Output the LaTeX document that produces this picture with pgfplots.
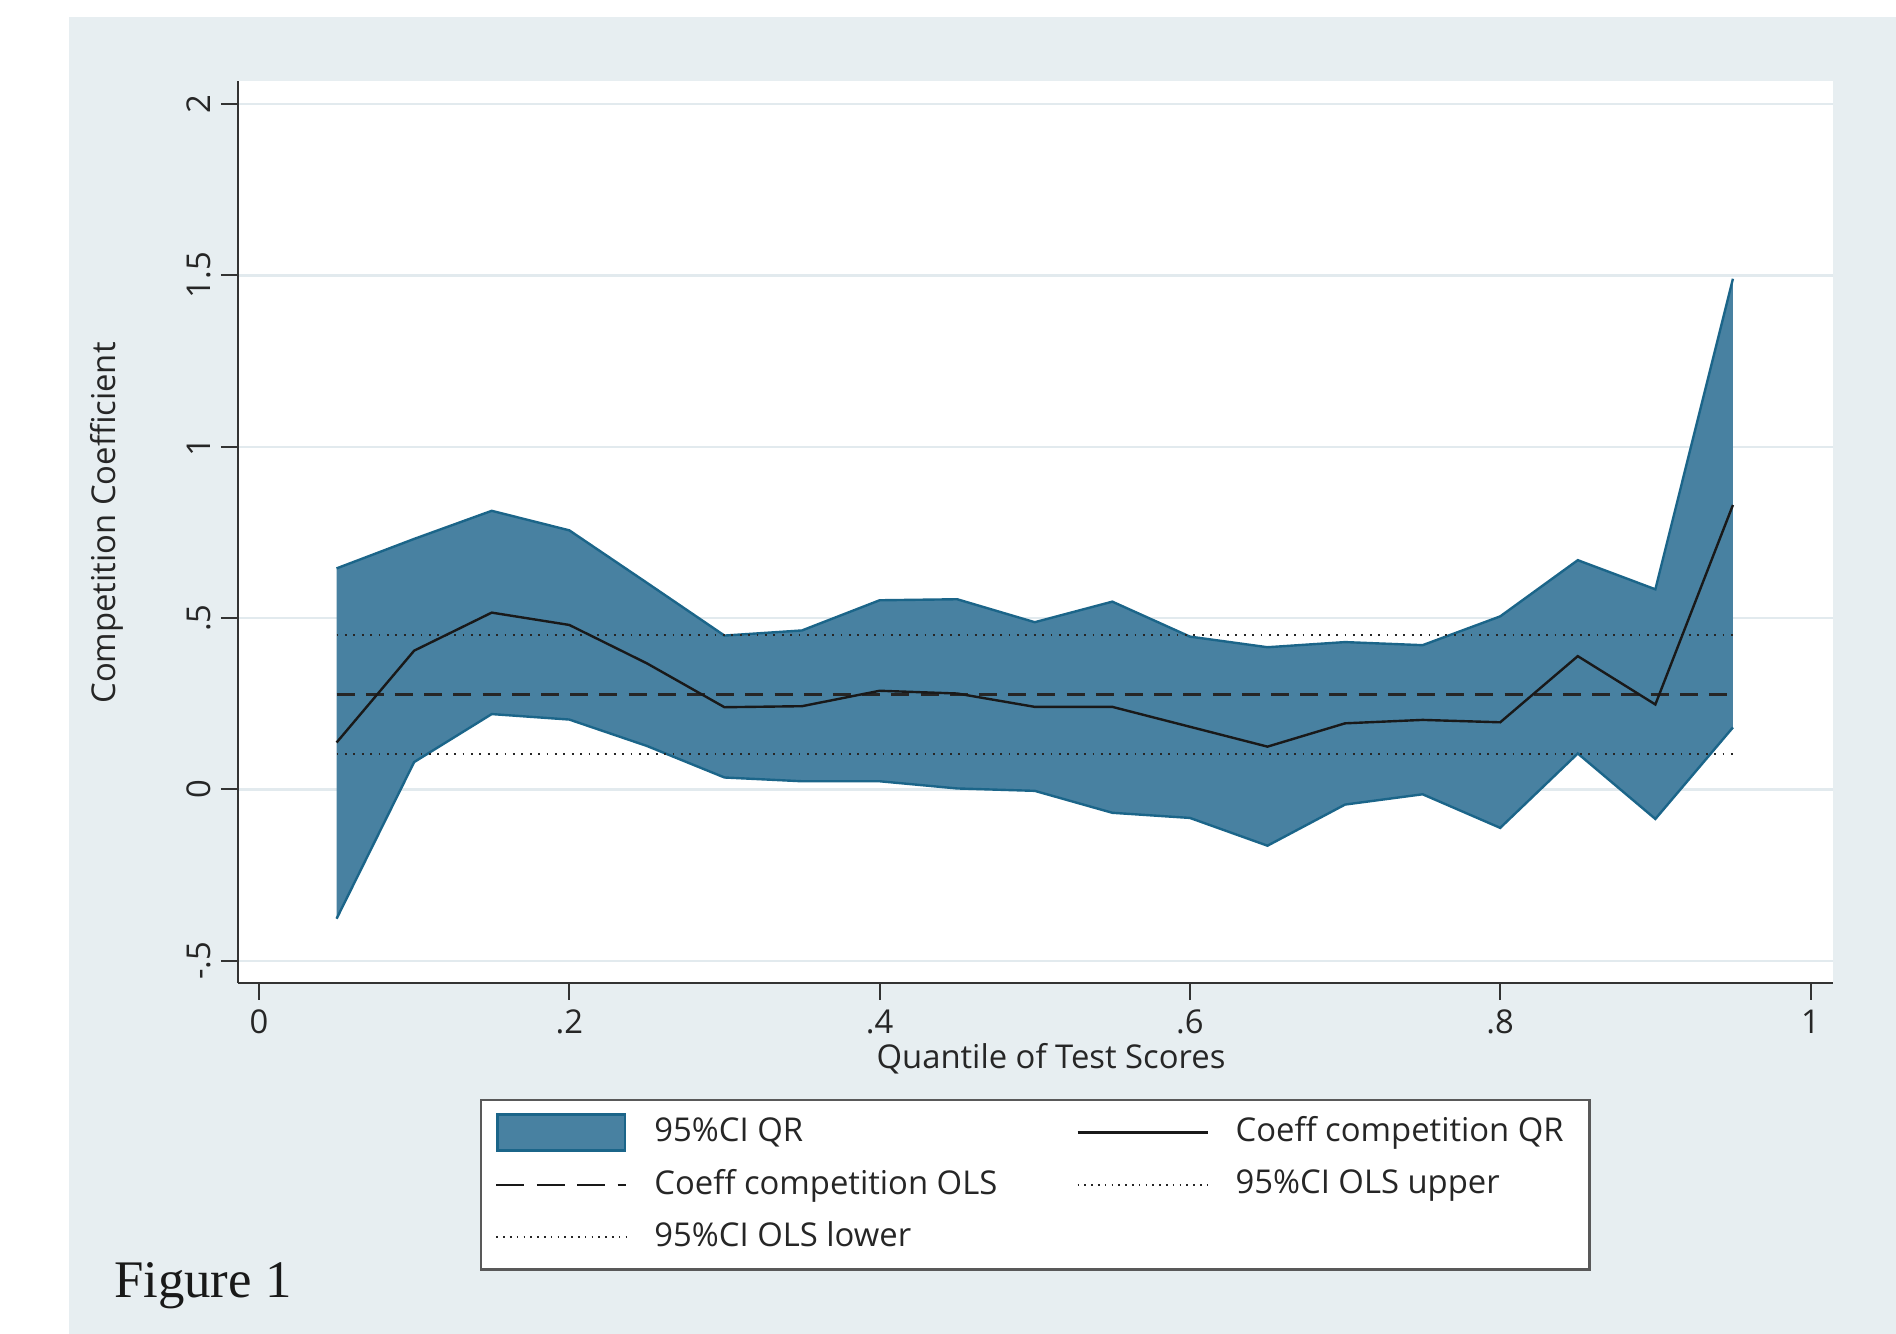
\documentclass[border=0pt]{standalone}
\usepackage{fontspec}
\setmainfont{Open Sans}
\newfontfamily\figfont{Liberation Serif}
\usepackage{pgfplots}
\pgfplotsset{compat=1.18}
\usepackage{pgfplotstable}

\definecolor{bgpanel}{RGB}{231,238,241}
\definecolor{bandfill}{RGB}{72,129,161}
\definecolor{bandedge}{RGB}{27,101,137}
\definecolor{gridc}{RGB}{226,234,238}

\pgfplotstableread{
x    lo      hi     coef
0.05 -0.377  0.645  0.137
0.10  0.080  0.731  0.405
0.15  0.220  0.813  0.516
0.20  0.204  0.756  0.480
0.25  0.127  0.603  0.368
0.30  0.035  0.449  0.240
0.35  0.024  0.464  0.243
0.40  0.024  0.552  0.288
0.45  0.003  0.555  0.280
0.50 -0.004  0.488  0.241
0.55 -0.068  0.548  0.241
0.60 -0.083  0.446  0.183
0.65 -0.164  0.415  0.125
0.70 -0.044  0.430  0.193
0.75 -0.014  0.421  0.203
0.80 -0.112  0.505  0.196
0.85  0.105  0.669  0.389
0.90 -0.086  0.584  0.248
0.95  0.181  1.490  0.830
}\qr

\begin{document}
\begin{tikzpicture}
\fill[white] (0,0) rectangle (474pt,333.5pt);
\fill[bgpanel] (17.25pt,0) rectangle (474pt,329.25pt);
\begin{axis}[
  at={(59.5pt,87.75pt)}, anchor=south west,
  scale only axis, width=398.75pt, height=225.5pt,
  xmin=-0.01354, xmax=1.0145, ymin=-0.5645, ymax=2.067,
  axis background/.style={fill=white},
  axis x line*=bottom, axis y line*=left,
  axis line style={black!80, line width=0.55pt},
  xtick={0,0.2,0.4,0.6,0.8,1}, xticklabels={0,.2,.4,.6,.8,1},
  ytick={-0.5,0,0.5,1,1.5,2}, yticklabels={-.5,0,.5,1,1.5,2},
  tick align=outside, major tick length=4.25pt,
  tick style={black!80, line width=0.5pt},
  ymajorgrids, major grid style={gridc, line width=0.6pt},
  ticklabel style={font=\fontsize{8.2}{9.8}\selectfont, inner sep=0pt, text=black!85},
  yticklabel style={rotate=90, anchor=south},
  xticklabel style={anchor=north},
  yticklabel shift=2.4pt, xticklabel shift=2.3pt,
  xlabel={Quantile of Test Scores}, ylabel={Competition Coefficient},
  label style={font=\fontsize{8.2}{9.8}\selectfont, text=black!85},
  xlabel style={at={(axis description cs:0.5097,-0.0843)}, anchor=center},
  ylabel style={at={(axis description cs:-0.0821,0.510)}, anchor=center},
  legend columns=2,
  legend cell align=left,
  legend style={at={(axis description cs:0.15172,-0.1286)}, anchor=north west,
    draw=black!65, line width=0.6pt, fill=white,
    inner xsep=3.5pt, inner ysep=1.5pt, column sep=0pt, row sep=0pt,
    nodes={inner sep=0pt, anchor=west, text=black!85},
    font=\fontsize{8.2}{9.8}\selectfont},
]
\addplot[fill=bandfill, draw=none, forget plot] coordinates {
(0.05,0.645) (0.10,0.731) (0.15,0.813) (0.20,0.756) (0.25,0.603) (0.30,0.449)
(0.35,0.464) (0.40,0.552) (0.45,0.555) (0.50,0.488) (0.55,0.548) (0.60,0.446)
(0.65,0.415) (0.70,0.430) (0.75,0.421) (0.80,0.505) (0.85,0.669) (0.90,0.584)
(0.95,1.490)
(0.95,0.181) (0.90,-0.086) (0.85,0.105) (0.80,-0.112) (0.75,-0.014) (0.70,-0.044)
(0.65,-0.164) (0.60,-0.083) (0.55,-0.068) (0.50,-0.004) (0.45,0.003) (0.40,0.024)
(0.35,0.024) (0.30,0.035) (0.25,0.127) (0.20,0.204) (0.15,0.220) (0.10,0.080)
(0.05,-0.377)} -- cycle;
\addplot[bandedge, line width=0.6pt, forget plot] table[x=x,y=hi]{\qr};
\addplot[bandedge, line width=0.6pt, forget plot] table[x=x,y=lo]{\qr};
\addplot[black!85, line width=0.5pt, dash pattern=on 0.45pt off 1.65pt, forget plot] coordinates {(0.05,0.451) (0.95,0.451)};
\addplot[black!85, line width=0.5pt, dash pattern=on 0.45pt off 1.65pt, forget plot] coordinates {(0.05,0.104) (0.95,0.104)};
\addplot[black!85, line width=0.6pt, dash pattern=on 4.5pt off 2.8pt, forget plot] coordinates {(0.05,0.277) (0.95,0.277)};
\addplot[black!90, line width=0.6pt, forget plot] table[x=x,y=coef]{\qr};

\addlegendimage{legend image code/.code={\path[draw=none, fill=none] (0pt,-6.55pt) rectangle (39.5pt,6.55pt); \draw[fill=bandfill, draw=bandedge, line width=0.6pt] (0.3pt,-4.5pt) rectangle (32.2pt,4.5pt);}}
\addlegendentry{\makebox[105.5pt][l]{95\%CI QR}}
\addlegendimage{legend image code/.code={\path[draw=none, fill=none] (0pt,-6.55pt) rectangle (39.5pt,6.55pt); \draw[black!90, line width=0.6pt] (0pt,0pt) -- (32.5pt,0pt);}}
\addlegendentry{\makebox[85pt][l]{Coeff competition QR}}
\addlegendimage{legend image code/.code={\path[draw=none, fill=none] (0pt,-6.55pt) rectangle (39.5pt,6.55pt); \draw[black!90, line width=0.6pt, dash pattern=on 7pt off 3.1pt] (0pt,0pt) -- (32.5pt,0pt);}}
\addlegendentry{\makebox[105.5pt][l]{Coeff competition OLS}}
\addlegendimage{legend image code/.code={\path[draw=none, fill=none] (0pt,-6.55pt) rectangle (39.5pt,6.55pt); \draw[black!85, line width=0.45pt, dash pattern=on 0.4pt off 1.3pt] (0pt,0pt) -- (32.5pt,0pt);}}
\addlegendentry{\makebox[85pt][l]{95\%CI OLS upper}}
\addlegendimage{legend image code/.code={\path[draw=none, fill=none] (0pt,-6.55pt) rectangle (39.5pt,6.55pt); \draw[black!85, line width=0.45pt, dash pattern=on 0.4pt off 1.3pt] (0pt,0pt) -- (32.5pt,0pt);}}
\addlegendentry{\makebox[105.5pt][l]{95\%CI OLS lower}}
\end{axis}
\node[anchor=base west, inner sep=0pt, font=\figfont\fontsize{13.2}{16}\selectfont, text=black!90] at (28.3pt,9pt) {Figure 1};
\end{tikzpicture}
\end{document}
